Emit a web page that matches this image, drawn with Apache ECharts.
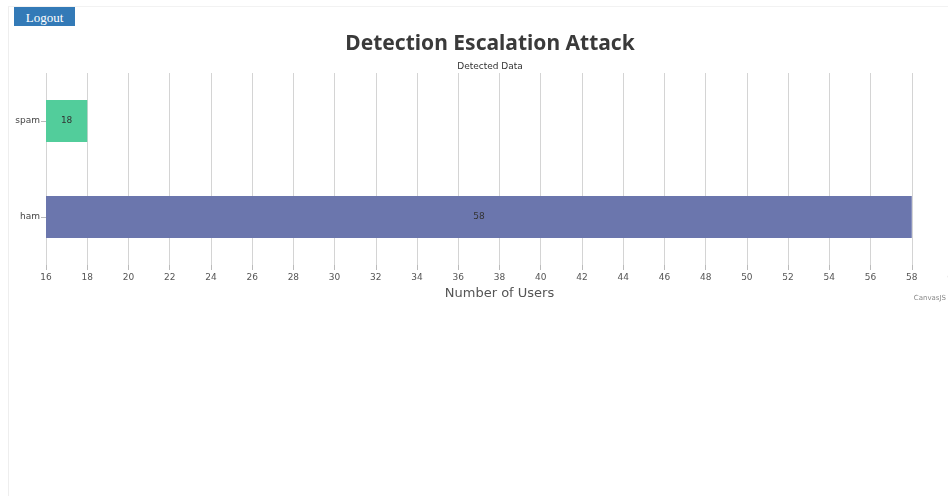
<!DOCTYPE html>
<html>
<head>
<meta charset="utf-8">
<script src="https://cdn.jsdelivr.net/npm/echarts@6/dist/echarts.min.js"></script>
<style>
  html, body { margin: 0; padding: 0; background: #fff; overflow: hidden; width: 948px; height: 496px; }
  .frame { position: absolute; left: 8px; top: 6px; width: 1000px; height: 600px; border-left: 1px solid #eee; border-top: 1px solid #f2f2f2; }
  .logout { position: absolute; left: 14px; top: 7px; width: 61px; height: 19px; background: #337ab7; color: #fff;
            font-family: "Liberation Serif", serif; font-size: 13px; line-height: 21px; text-align: center; }
  #chart { position: absolute; left: 10px; top: 0; width: 960px; height: 330px; }
</style>
</head>
<body>
<div class="frame"></div>
<div class="logout">Logout</div>
<div id="chart"></div>
<script>
// Users per message class
const categories = ['ham', 'spam'];
const userCounts = [58, 18];
const barColors = ['#6b76ad', '#52cd9b'];

const chart = echarts.init(document.getElementById('chart'));
chart.setOption({
  animation: false,
  title: {
    text: 'Detection Escalation Attack',
    subtext: 'Detected Data',
    left: 'center',
    top: 29,
    itemGap: 7,
    textStyle: { fontFamily: 'Noto Sans', fontSize: 21, fontWeight: 'bold', color: '#3a3a3a' },
    subtextStyle: { fontFamily: 'DejaVu Sans', fontSize: 9, color: '#333' }
  },
  grid: { left: 36, right: 17, top: 73, bottom: 65 },
  xAxis: {
    type: 'value',
    min: 16,
    max: 60,
    interval: 2,
    name: 'Number of Users',
    nameLocation: 'middle',
    nameGap: 20,
    nameTextStyle: { fontFamily: 'DejaVu Sans', fontSize: 13, color: '#555' },
    axisLine: { show: false },
    axisTick: { show: true, length: 5, lineStyle: { color: '#bbb' } },
    axisLabel: { fontFamily: 'DejaVu Sans', fontSize: 9, color: '#555', margin: 8 },
    splitLine: { show: true, lineStyle: { color: '#d4d4d4' } }
  },
  yAxis: {
    type: 'category',
    data: categories,
    axisLine: { show: false },
    axisTick: { show: true, length: 5, alignWithLabel: true, lineStyle: { color: '#bbb' } },
    axisLabel: { fontFamily: 'DejaVu Sans', fontSize: 9, color: '#444', margin: 6 },
    splitLine: { show: false }
  },
  series: [{
    type: 'bar',
    barWidth: '44%',
    data: userCounts.map((v, i) => ({ value: v, itemStyle: { color: barColors[i] } })),
    label: {
      show: true,
      position: 'inside',
      fontFamily: 'DejaVu Sans',
      fontSize: 9,
      color: '#333'
    }
  }],
  graphic: [{
    type: 'text',
    right: 24,
    top: 295,
    style: { text: 'CanvasJS', fontFamily: 'DejaVu Sans', fontSize: 7, fill: '#888' }
  }]
});
</script>
</body>
</html>
